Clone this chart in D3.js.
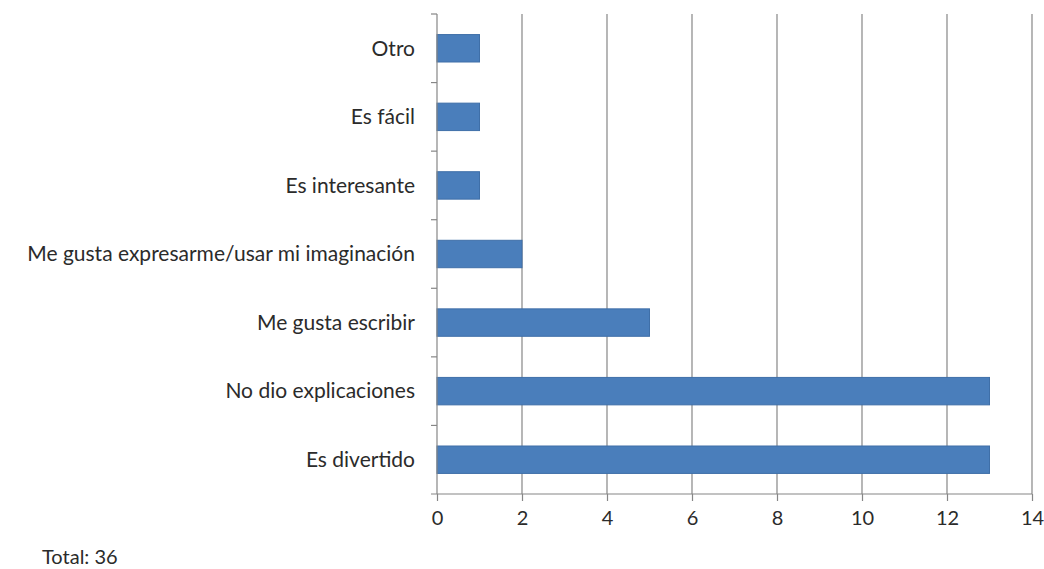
<!DOCTYPE html>
<html>
<head>
<meta charset="utf-8">
<script src="https://cdn.jsdelivr.net/npm/d3@7"></script>
<style>
  html, body { margin: 0; padding: 0; background: #ffffff; }
  svg { display: block; }
  text { font-family: Lato, "Open Sans", sans-serif; fill: #2b2b2b; }
</style>
</head>
<body>
<svg id="chart" width="1044" height="569"></svg>
<script>
// Reasons given, top to bottom
const categories = [
  "Otro",
  "Es fácil",
  "Es interesante",
  "Me gusta expresarme/usar mi imaginación",
  "Me gusta escribir",
  "No dio explicaciones",
  "Es divertido"
];
const counts = [1, 1, 1, 2, 5, 13, 13];
const xTicks = [0, 2, 4, 6, 8, 10, 12, 14];
const totalLabel = "Total: 36";

const svg = d3.select("#chart");
const margin = { left: 437, right: 12, top: 14, bottom: 75 };
const W = 1044, H = 569;

const x = d3.scaleLinear().domain([0, 14]).range([margin.left, W - margin.right]);
const y = d3.scaleBand().domain(categories).range([margin.top, H - margin.bottom]).paddingInner(0.6).paddingOuter(0.3);
const yOuter = d3.scaleBand().domain(categories).range([margin.top, H - margin.bottom]);

const axisColor = "#868686";
const y0 = H - margin.bottom;

// vertical gridlines
svg.append("g").selectAll("line").data(xTicks.filter(d => d > 0)).join("line")
  .attr("x1", d => x(d)).attr("x2", d => x(d))
  .attr("y1", margin.top).attr("y2", y0)
  .attr("stroke", axisColor).attr("stroke-width", 1.2);

// bars
svg.append("g").selectAll("rect").data(categories).join("rect")
  .attr("x", x(0))
  .attr("y", d => y(d))
  .attr("width", (d, i) => x(counts[i]) - x(0))
  .attr("height", y.bandwidth())
  .attr("fill", "#4a7ebb")
  .attr("stroke", "#3f6fa8")
  .attr("stroke-width", 1);

// bottom axis
const xAxis = d3.axisBottom(x).tickValues(xTicks).tickSize(7).tickPadding(10).tickSizeOuter(0);
const gx = svg.append("g").attr("transform", `translate(0,${y0})`).call(xAxis);
gx.select(".domain").remove();
gx.append("line").attr("x1", x(0) - 6).attr("x2", x(14)).attr("y1", 0).attr("y2", 0)
  .attr("stroke", axisColor).attr("stroke-width", 1.2);
gx.selectAll(".tick line").attr("stroke", axisColor).attr("stroke-width", 1.2);
gx.selectAll(".tick text").attr("font-size", 20).style("font-family", "Lato, sans-serif").attr("fill", "#2b2b2b");

// left axis with band boundary ticks
const gy = svg.append("g");
gy.append("line").attr("x1", x(0)).attr("x2", x(0)).attr("y1", margin.top).attr("y2", y0)
  .attr("stroke", axisColor).attr("stroke-width", 1.2);
gy.selectAll("line.bt").data(categories).join("line").attr("class", "bt")
  .attr("x1", x(0) - 6).attr("x2", x(0))
  .attr("y1", d => yOuter(d)).attr("y2", d => yOuter(d))
  .attr("stroke", axisColor).attr("stroke-width", 1.2);
gy.selectAll("text").data(categories).join("text")
  .attr("x", x(0) - 22)
  .attr("y", d => y(d) + y.bandwidth() / 2)
  .attr("dy", "0.35em")
  .attr("text-anchor", "end")
  .attr("font-size", 21)
  .text(d => d);

svg.append("text").attr("x", 42).attr("y", 564).attr("font-size", 20).text(totalLabel);
</script>
</body>
</html>
